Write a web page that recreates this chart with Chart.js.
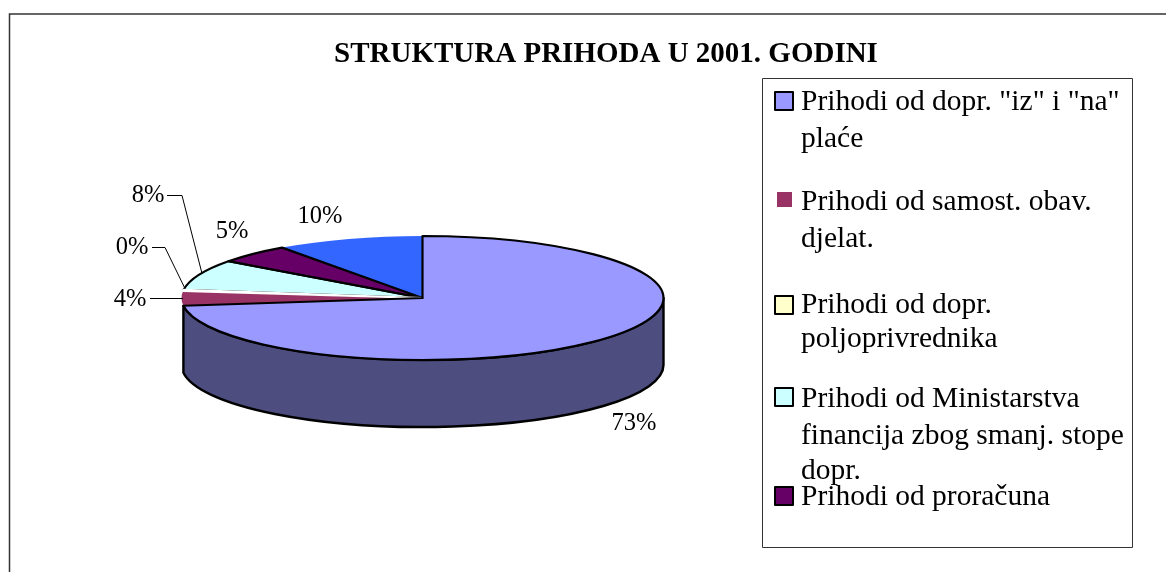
<!DOCTYPE html>
<html><head><meta charset="utf-8">
<style>html,body{margin:0;padding:0;background:#fff}canvas{display:block}</style>
<script src="https://cdn.jsdelivr.net/npm/chart.js@4"></script>
</head><body><canvas id="c" width="1166" height="572"></canvas>
<script>
const chartTitle = 'STRUKTURA PRIHODA U 2001. GODINI';
const categories = [
  ['Prihodi od dopr. "iz" i "na"', 'plaće'],
  ['Prihodi od samost. obav.', 'djelat.'],
  ['Prihodi od dopr.', 'poljoprivrednika'],
  ['Prihodi od Ministarstva', 'financija zbog smanj. stope', 'dopr.'],
  ['Prihodi od proračuna'],
  ['']
];
const shares = [73, 3.8, 0.3, 8, 5, 9.9];
const fillColors = ['#9999ff', '#993366', '#ffffcc', '#ccffff', '#660066', '#3366ff'];
const edgeColors = ['#000000', null, '#ffffff', '#000000', '#000000', null];
const swatchEdges = ['#000000', null, '#000000', '#000000', '#000000', null];
const wallColor = '#4d4d80';

const SERIF = '"Liberation Serif","Times New Roman",serif';
const SQUASH = 62 / 241, DEPTH = 67;
const labelSpots = [[634, 424], [130, 300], [132, 248], [148, 196], [232, 232], [320, 217]];
const leaders = [null, [[150, 298], [183, 298]], [[152, 247], [165, 247], [185, 288]], [[167, 195], [182, 195], [202, 273]], null, null];
const legendBox = { x: 762, y: 78, w: 370, h: 469 };
const legendSwatchY = [92, 192, 296, 388, 487];
const legendBaselines = [[110, 147], [210, 247], [313, 347], [407, 444, 479], [505]];

const pie3d = {
  id: 'pie3d',
  afterLayout(chart) {
    const t = chart.titleBlock;
    t.left = 306; t.right = 906;
  },
  beforeDraw(chart) {
    const c = chart.ctx;
    c.save();
    c.strokeStyle = '#333';
    c.lineWidth = 1.5;
    c.beginPath();
    c.moveTo(9.5, 572); c.lineTo(9.5, 14); c.lineTo(1166, 14);
    c.stroke();
    c.restore();
  },
  beforeDatasetsDraw(chart) {
    const c = chart.ctx, arcs = chart.getDatasetMeta(0).data;
    const a0 = arcs[0], cx = a0.x, cy = a0.y, r = a0.outerRadius, ry = r * SQUASH;
    c.save();
    c.lineWidth = 2.4; c.strokeStyle = '#000'; c.fillStyle = wallColor; c.lineJoin = 'round';
    c.beginPath();
    const s = 0, e = a0.endAngle;
    c.ellipse(cx, cy, r, ry, 0, s, e);
    c.ellipse(cx, cy + DEPTH, r, ry, 0, e, s, true);
    c.closePath(); c.fill(); c.stroke();
    c.restore();
    c.save();
    c.translate(cx, cy); c.scale(1, SQUASH); c.translate(-cx, -cy);
  },
  afterDatasetsDraw(chart) {
    const c = chart.ctx, arcs = chart.getDatasetMeta(0).data;
    c.restore();
    c.save();
    c.lineJoin = 'round';
    for (let i = arcs.length - 1; i >= 0; i--) {
      if (!edgeColors[i]) continue;
      const a = arcs[i], r = a.outerRadius;
      c.beginPath();
      c.moveTo(a.x, a.y);
      c.ellipse(a.x, a.y, r, r * SQUASH, 0, a.startAngle, a.endAngle);
      c.closePath();
      c.strokeStyle = edgeColors[i]; c.lineWidth = 2.2; c.stroke();
    }
    c.fillStyle = '#000'; c.textAlign = 'center'; c.textBaseline = 'middle';
    c.font = '24.5px ' + SERIF;
    shares.forEach((v, i) => c.fillText(Math.round(v) + '%', labelSpots[i][0], labelSpots[i][1]));
    c.strokeStyle = '#000'; c.lineWidth = 1;
    leaders.forEach(l => {
      if (!l) return;
      c.beginPath();
      l.forEach((p, k) => k ? c.lineTo(p[0], p[1] + .5) : c.moveTo(p[0], p[1] + .5));
      c.stroke();
    });
    // legend
    c.strokeStyle = '#333';
    c.strokeRect(legendBox.x + .5, legendBox.y + .5, legendBox.w, legendBox.h);
    c.textAlign = 'left'; c.textBaseline = 'alphabetic';
    c.font = '29.5px ' + SERIF;
    legendSwatchY.forEach((y, i) => {
      c.fillStyle = fillColors[i];
      if (swatchEdges[i]) {
        c.fillRect(775, y, 18, 18);
        c.strokeStyle = swatchEdges[i]; c.lineWidth = 2; c.strokeRect(775, y, 18, 18);
      } else {
        c.fillRect(777, y, 15, 15);
      }
      c.fillStyle = '#000';
      categories[i].forEach((t, k) => c.fillText(t, 801, legendBaselines[i][k]));
    });
    c.restore();
  }
};

new Chart(document.getElementById('c'), {
  type: 'pie',
  data: {
    labels: categories.map(l => l.join(' ')),
    datasets: [{ data: shares, backgroundColor: fillColors, borderWidth: 0, radius: 241, clip: false }]
  },
  options: {
    responsive: false, animation: false,
    layout: { padding: { left: 182, right: 503, top: 0, bottom: 45 } },
    plugins: {
      legend: { display: false }, tooltip: { enabled: false },
      title: {
        display: true, text: chartTitle, color: '#000',
        font: { family: SERIF, size: 29, weight: 'bold', lineHeight: 1 },
        padding: { top: 40, bottom: 0 }
      }
    }
  },
  plugins: [pie3d]
});
</script></body></html>
